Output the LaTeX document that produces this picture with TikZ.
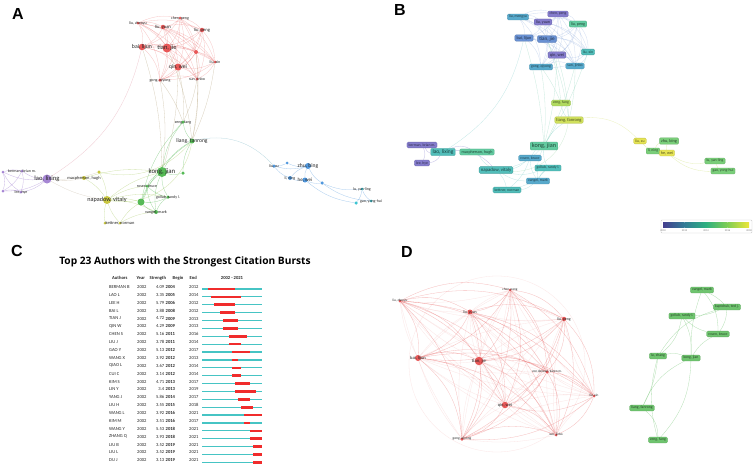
\documentclass[tikz,border=0pt]{standalone}
\usepackage{fontspec}
\setmainfont{Carlito}
\newfontfamily\titlefont{Open Sans}
\newfontfamily\panelfont{Liberation Sans}
\usetikzlibrary{positioning}
\pgfdeclarelayer{bg}
\pgfsetlayers{bg,main}

\definecolor{vred}{RGB}{232,88,88}
\definecolor{vgreen}{RGB}{86,186,86}
\definecolor{vyellow}{RGB}{200,198,64}
\definecolor{vpurple}{RGB}{166,134,212}
\definecolor{vblue}{RGB}{80,152,222}
\definecolor{vcyan}{RGB}{62,196,210}
\definecolor{bpurple}{RGB}{132,124,204}
\definecolor{bblue}{RGB}{104,144,210}
\definecolor{bteal}{RGB}{88,170,204}
\definecolor{bcyan}{RGB}{82,190,186}
\definecolor{bmint}{RGB}{98,202,160}
\definecolor{bgreen}{RGB}{122,206,122}
\definecolor{blime}{RGB}{176,218,96}
\definecolor{byellow}{RGB}{230,228,84}
\definecolor{vir0}{RGB}{68,62,142}
\definecolor{vir1}{RGB}{50,124,150}
\definecolor{vir2}{RGB}{46,176,128}
\definecolor{vir3}{RGB}{128,206,84}
\definecolor{vir4}{RGB}{236,230,56}
\definecolor{bteal2}{RGB}{70,196,196}
\definecolor{bred}{RGB}{240,44,44}

\begin{document}
\begin{tikzpicture}[x=1pt, y=-1pt,
    adot/.style={circle, inner sep=0pt, fill=#1},
    alab/.style={font=\fontsize{#1}{#1}\selectfont, text=black!85, inner sep=0pt},
    vbox/.style={rounded corners=1.2pt, fill=#1, draw=#1!85!black, line width=0.3pt,
        inner xsep=1.7pt, inner ysep=1.3pt, text=#1!35!black},
    link/.style={line width=0.3pt, draw opacity=#1},
    link/.default=0.4,
    panel/.style={font=\panelfont\bfseries\fontsize{16}{16}\selectfont, inner sep=0pt},
    ctab/.style={font=\fontsize{4.6}{4.6}\selectfont, inner sep=0pt, text=black!85},
]

    \useasboundingbox (0,0) rectangle (753,466);
    \begin{pgfonlayer}{bg}
        \fill[white] (0,0) rectangle (753,466);
    \end{pgfonlayer}

    \pgfmathsetmacro{\rowA}{287}
    \pgfmathsetmacro{\rowH}{7.88}
    \pgfmathsetmacro{\barX}{202}
    \pgfmathsetmacro{\yrW}{3}

    % 1. Panel A: co-authorship network
    \node[panel] (lA) at (18,14) {A};
    \foreach \n/\x/\y/\s/\c/\f/\t in {
        aLiuZ/138/23/3/vred/4/{liu, zhenyu}, aChen/180/18/3/vred/4/{chen, peng},
        aLiuY/163/27/4.5/vred/4.6/{liu, yuan}, aLiuP/202/30/4.5/vred/4.6/{liu, peng},
        aBai/142/47/6.5/vred/5.8/{bai, lijun}, aTian/167/48/9/vred/6.4/{tian, jie},
        aVon/196/52/4/vred/3/{}, aLiuX/215/62/3/vred/4/{liu, xin},
        aQin/178/67/7/vred/5.6/{qin, wei}, aGong/160/80/3.5/vred/4/{gong, qiyong},
        aSun/197/79/3/vred/4/{sun, jinbo},
        aZeng/183/122/3.5/vgreen/4/{zeng, fang}, aLiang/192/141/5/vgreen/5.6/{liang, fanrong},
        aKong/162/172/10/vgreen/6.8/{kong, jian}, aKap/183/173/3.5/vgreen/3/{},
        aRosen/147/186/3/vgreen/4/{rosen, bruce}, aLu/141/202/7/vgreen/3/{},
        aGollub/168/197/3.5/vgreen/4/{gollub, randy l.}, aVangel/156/212/4/vgreen/4.2/{vangel, mark},
        aKett2/105/223/3/vyellow/3/{}, aKett/120/223/3/vyellow/4.4/{kettner, norman},
        aNap/107/200/8/vyellow/6.2/{napadow, vitaly}, aMac/84/178/4/vyellow/4.4/{macpherson, hugh},
        aYel/99/172/3.5/vyellow/3/{},
        aLao/47/179/9/vpurple/6.6/{lao, lixing}, aBerman/22/171/3/vpurple/4/{berman, brian m.},
        aPur1/3/172/3/vpurple/3/{}, aPur2/3/191/3/vpurple/3/{}, aLee/21/192/3/vpurple/4/{lee, hye},
        aLiuXu/274/166/3.5/vblue/4/{liu, xu}, aBl1/287/163/3/vblue/3/{},
        aZhu/308/166/6/vblue/5.6/{zhu, bing}, aLi/290/178/4/vblue/4/{li, ning},
        aHe/305/180/5/vblue/5/{he, wei}, aBl2/322/183/3.5/vblue/3/{},
        aLuY/362/189/3/vcyan/4/{lu, yan-ling}, aCy/356/203/3.5/vcyan/3/{},
        aGao/371/201/3/vcyan/4/{gao, yong-hui}
    }{
        \node[adot=\c, minimum size=\s] (\n) at (\x,\y) {};
        \node[alab=\f] (\n-t) at (\n) {\t};
    }

    \def\redA{aLiuZ,aChen,aLiuY,aLiuP,aBai,aTian,aVon,aLiuX,aQin,aGong,aSun}
    \begin{pgfonlayer}{bg}
        \foreach \u [count=\i] in \redA {
            \foreach \v [count=\j] in \redA {
                \ifnum\j>\i \draw[link=0.35, vred] (\u) to[bend left=18] (\v); \fi
            }
        }
        \foreach \u/\v in {aGong/aZeng, aQin/aZeng, aSun/aLiang, aTian/aLiang, aBai/aKong,
            aQin/aKong, aLiuX/aLiang, aGong/aKong, aSun/aZeng, aVon/aLiang}
            \draw[link=0.4, vred!50!vgreen] (\u) to[bend left=8] (\v);
        \foreach \u/\v in {aZeng/aLiang, aZeng/aKong, aLiang/aKong, aLiang/aKap, aKong/aKap,
            aKong/aRosen, aKong/aLu, aKong/aGollub, aKong/aVangel, aLu/aRosen, aLu/aVangel,
            aLu/aGollub, aRosen/aGollub, aGollub/aVangel, aRosen/aVangel, aLiang/aLu, aZeng/aLu}
            \draw[link=0.55, vgreen] (\u) to[bend right=15] (\v);
        \foreach \u/\v in {aNap/aKong, aNap/aLu, aNap/aRosen, aNap/aVangel, aNap/aGollub,
            aKett/aLu, aKett/aVangel, aKett/aNap, aMac/aNap, aYel/aNap, aMac/aKong, aKett2/aNap}
            \draw[link=0.45, vyellow!60!vgreen] (\u) to[bend left=12] (\v);
        \draw[link=0.45, vyellow!60!vgreen] (aNap) to[bend right=45] (aLiang);
        \draw[link=0.45, vyellow!60!vgreen] (aYel) to[bend right=30] (aLiang);
        \foreach \u/\v in {aLao/aBerman, aLao/aLee, aLao/aPur1, aLao/aPur2, aBerman/aLee,
            aPur1/aPur2, aPur1/aBerman, aPur2/aLee, aBerman/aPur2, aLee/aPur1}
            \draw[link=0.6, vpurple] (\u) to[bend left=15] (\v);
        \foreach \u/\v in {aLao/aMac, aLao/aNap, aLao/aYel}
            \draw[link=0.4, vpurple!50!vyellow] (\u) to[bend right=10] (\v);
        \draw[link=0.35, vred!70!vpurple] (aLao) to[bend right=22] (aBai);
        \draw[link=0.4, vblue!70!vgreen] (aLiang) to[bend left=30] (aLiuXu);
        \foreach \u/\v in {aLiuXu/aBl1, aLiuXu/aLi, aLiuXu/aZhu, aBl1/aZhu, aZhu/aHe, aZhu/aLi,
            aLi/aHe, aHe/aBl2, aZhu/aBl2, aBl2/aLuY, aBl2/aGao, aHe/aCy, aLuY/aGao, aCy/aLuY}
            \draw[link=0.5, vblue] (\u) to[bend right=15] (\v);
    \end{pgfonlayer}

    % 2. Panel B: overlay by year
    \node[panel] (lB) at (400,10) {B};
    \foreach \n/\x/\y/\c/\f/\t in {
        bLiuM/518/17/bteal/3.8/{liu, mengyu}, bChen/558/14/bpurple/3.8/{chen, peng},
        bLiuY/543/22/bpurple/4.1/{liu, yuan}, bLiuP/578/24/bmint/4.1/{liu, peng},
        bBai/524/38/bblue/4.3/{bai, lijun}, bTian/547/39/bblue/5.1/{tian, jie},
        bLiuX/588/52/bcyan/3.8/{liu, xin}, bQin/557/55/bpurple/4.5/{qin, wei},
        bGong/541/67/bteal/3.8/{gong, qiyong}, bSun/575/66/bteal/3.8/{sun, jinbo},
        bZeng/561/103/blime/3.8/{zeng, fang}, bLiang/569/120/byellow!80!bgreen/4.5/{liang, fanrong},
        bKong/544/146/bmint/6.2/{kong, jian},
        bBerman/422/145/bpurple/3.8/{berman, brian m.}, bLee/422/163/bpurple/3.8/{lee, hye},
        bLao/443/152/bcyan/5.5/{lao, lixing}, bMac/477/152/bmint/4.1/{macpherson, hugh},
        bRosen/530/158/bteal/3.8/{rosen, bruce}, bGollub/548/168/bcyan/3.8/{gollub, randy l.},
        bNap/496/170/bcyan/4.8/{napadow, vitaly}, bVangel/538/181/bteal/3.8/{vangel, mark},
        bKett/507/190/bcyan/3.8/{kettner, norman},
        bLiuXu/640/141/byellow/3.8/{liu, xu}, bZhu/669/141/bgreen/4.3/{zhu, bing},
        bLi/653/151/bgreen/3.8/{li, ning}, bHe/667/153/byellow/4.1/{he, wei},
        bLuY/715/161/bgreen/3.8/{lu, yan-ling}, bGao/723/171/bgreen/3.8/{gao, yong-hui}
    }{
        \node[vbox=\c, font=\fontsize{\f}{\f}\selectfont] (\n) at (\x,\y) {\t};
    }

    \def\topB{bLiuM,bChen,bLiuY,bLiuP,bBai,bTian,bLiuX,bQin,bGong,bSun}
    \begin{pgfonlayer}{bg}
        \foreach \u [count=\i] in \topB {
            \foreach \v [count=\j] in \topB {
                \ifnum\j>\i \draw[link=0.3, bblue] (\u) to[bend left=20] (\v); \fi
            }
        }
        \foreach \u/\v in {bGong/bZeng, bGong/bKong, bTian/bZeng, bQin/bLiang, bSun/bLiang,
            bBai/bKong, bLiuX/bKong, bTian/bLiang, bSun/bKong, bQin/bKong}
            \draw[link=0.35, bcyan!60!bgreen] (\u) to[bend left=6] (\v);
        \foreach \u/\v in {bZeng/bLiang, bLiang/bKong, bKong/bRosen, bKong/bGollub, bKong/bVangel,
            bNap/bKong, bNap/bRosen, bNap/bVangel, bNap/bGollub, bKett/bVangel, bKett/bNap,
            bKett/bRosen, bKett/bGollub, bRosen/bVangel, bGollub/bVangel, bMac/bNap}
            \draw[link=0.35, bcyan] (\u) to[bend right=15] (\v);
        \draw[link=0.35, bcyan!50!blime] (bNap) to[bend right=40] (bLiang);
        \foreach \u/\v in {bLao/bMac, bLao/bNap, bLao/bBerman, bLao/bLee, bBerman/bLee}
            \draw[link=0.5, bpurple] (\u) to[bend left=25] (\v);
        \draw[link=0.35, bcyan] (bBai) to[bend left=22] (bLao);
        \draw[link=0.4, byellow!80!bgreen] (bLiang) to[bend left=25] (bLiuXu);
        \foreach \u/\v in {bLiuXu/bHe, bZhu/bHe, bLi/bHe, bZhu/bLi, bHe/bLuY, bHe/bGao, bLuY/bGao}
            \draw[link=0.45, byellow!70!bgreen] (\u) to[bend right=20] (\v);
    \end{pgfonlayer}

    % colour scale
    \node[draw=black!20, rounded corners=1pt, minimum width=91, minimum height=13, inner sep=0pt]
        (cbox) at (706.5,226.5) {};
    \shade[left color=vir0, right color=vir1] (663,222) rectangle (684.5,227);
    \shade[left color=vir1, right color=vir2] (684.5,222) rectangle (706,227);
    \shade[left color=vir2, right color=vir3] (706,222) rectangle (727.5,227);
    \shade[left color=vir3, right color=vir4] (727.5,222) rectangle (749,227);
    \foreach \yr [count=\k] in {2010,2012,2014,2016,2018}
        \node[alab=2.6, text=black!55] (tk\k) at ({663+(\k-1)*21.5},230.5) {\yr};

    % 3. Panel C: citation bursts
    \node[panel] (lC) at (17,251) {C};
    \node[font=\titlefont\bfseries\fontsize{10.2}{10.2}\selectfont, inner sep=0pt] (ctitle)
        at (185,262) {Top 23 Authors with the Strongest Citation Bursts};
    \node[ctab, font=\fontsize{4.6}{4.6}\selectfont\bfseries, anchor=west] (hAu) at (112,278) {Authors};
    \node[ctab, font=\fontsize{4.6}{4.6}\selectfont\bfseries, anchor=west] (hYr) at (136.5,278) {Year};
    \node[ctab, font=\fontsize{4.6}{4.6}\selectfont\bfseries, anchor=west] (hSt) at (149.5,278) {Strength};
    \node[ctab, font=\fontsize{4.6}{4.6}\selectfont\bfseries, anchor=west] (hBe) at (172.5,278) {Begin};
    \node[ctab, font=\fontsize{4.6}{4.6}\selectfont\bfseries, anchor=west] (hEn) at (189.5,278) {End};
    \node[ctab, font=\fontsize{4.6}{4.6}\selectfont\bfseries] (hSpan) at (232,278) {2002 - 2021};

    \foreach \au/\st/\be/\en [count=\i] in {
        BERMAN B/4.09/2004/2012, LAO L/3.35/2005/2014, LEE H/5.79/2006/2012,
        BAI L/3.88/2008/2012, TIAN J/4.72/2009/2013, QIN W/4.29/2009/2013,
        CHEN S/5.16/2011/2016, LIU J/3.78/2011/2014, GAO Y/5.13/2012/2017,
        WANG X/3.92/2012/2013, QIAO L/3.67/2012/2014, CUI C/3.14/2012/2014,
        KIM S/4.71/2013/2017, LIN Y/3.4/2013/2019, YANG J/5.86/2014/2017,
        LIU H/3.55/2015/2018, WANG L/3.92/2016/2021, KIM M/3.51/2016/2017,
        WANG Y/5.53/2018/2021, ZHANG Q/3.93/2018/2021, LIU B/3.52/2019/2021,
        LIU L/3.52/2019/2021, DU J/3.13/2019/2021
    }{
        \pgfmathsetmacro{\ry}{\rowA+(\i-1)*\rowH}
        \pgfmathsetmacro{\rb}{\barX+(\be-2002)*\yrW}
        \pgfmathsetmacro{\re}{\barX+(\en-2001)*\yrW}
        \node[ctab, anchor=west] (cAu\i) at (109,\ry) {\au};
        \node[ctab, anchor=west] (cYr\i) at (137,\ry) {2002};
        \node[ctab, anchor=east] (cSt\i) at (164.5,\ry) {\st};
        \node[ctab, anchor=west, font=\fontsize{4.6}{4.6}\selectfont\bfseries] (cBe\i) at (165.5,\ry) {\be};
        \node[ctab, anchor=west] (cEn\i) at (189,\ry) {\en};
        \coordinate (cL\i) at (\barX,\ry+2);
        \coordinate (cR\i) at (262,\ry+2);
        \draw[bteal2, line width=1.2pt] (cL\i) -- (cR\i);
        \draw[bred, line width=2.6pt] (\rb,\ry+2) -- (\re,\ry+2);
    }

    % 4. Panel D: clusters
    \node[panel] (lD) at (407,252) {D};
    \foreach \n/\x/\y/\s/\f/\t in {
        dLiuZ/400/301/3/3.4/{liu, zhenyu}, dChen/510/290/3/3.4/{chen, peng},
        dLiuY/470/312/5/3.9/{liu, yuan}, dLiuP/564/319/4.5/3.9/{liu, peng},
        dBai/418/358/6/4.5/{bai, lijun}, dTian/479/361/8.5/4.7/{tian, jie},
        dVon/547/372/3.5/3.4/{von deneen, karen m.}, dLiuX/594/396/3/3.4/{liu, xin},
        dQin/505/405/6.5/4.5/{qin, wei}, dGong/462/439/3.5/3.6/{gong, qiyong},
        dSun/556/435/3/3.4/{sun, jinbo}
    }{
        \node[adot=vred, minimum size=\s] (\n) at (\x,\y) {};
        \node[alab=\f] (\n-t) at (\n) {\t};
    }
    \def\redD{dLiuZ,dChen,dLiuY,dLiuP,dBai,dTian,dVon,dLiuX,dQin,dGong,dSun}
    \begin{pgfonlayer}{bg}
        \draw[link=0.15, vred] (497,364) circle[radius=88];
        \foreach \u [count=\i] in \redD {
            \foreach \v [count=\j] in \redD {
                \ifnum\j>\i
                    \draw[link=0.4, vred] (\u) to[bend left=22] (\v);
                    \draw[link=0.15, vred] (\u) to[bend right=10] (\v);
                \fi
            }
        }
    \end{pgfonlayer}

    \foreach \n/\x/\y/\t in {
        dVangel/702/290/{vangel, mark}, dKap/727/307/{kaptchuk, ted j.},
        dGollub/682/316/{gollub, randy l.}, dRosen/718/334/{rosen, bruce},
        dLu/658/356/{lu, zhang}, dKong/691/358/{kong, jian},
        dLiang/642/408/{liang, fanrong}, dZeng/658/440/{zeng, fang}
    }{
        \node[vbox=vgreen!85!white, font=\fontsize{3.8}{3.8}\selectfont] (\n) at (\x,\y) {\t};
    }
    \begin{pgfonlayer}{bg}
        \foreach \u/\v/\b in {dKong/dZeng/20, dLu/dLiang/10, dLu/dZeng/-15, dLiang/dZeng/25,
            dGollub/dKong/15, dVangel/dRosen/20, dVangel/dKong/-10, dKap/dLu/-20,
            dKap/dRosen/15, dGollub/dRosen/-15, dKong/dLiang/-20, dLu/dKong/15,
            dVangel/dKap/10, dGollub/dKap/-10, dGollub/dLu/20, dRosen/dKong/-15}
            \draw[link=0.45, vgreen] (\u) to[bend left=\b] (\v);
    \end{pgfonlayer}

\end{tikzpicture}
\end{document}
